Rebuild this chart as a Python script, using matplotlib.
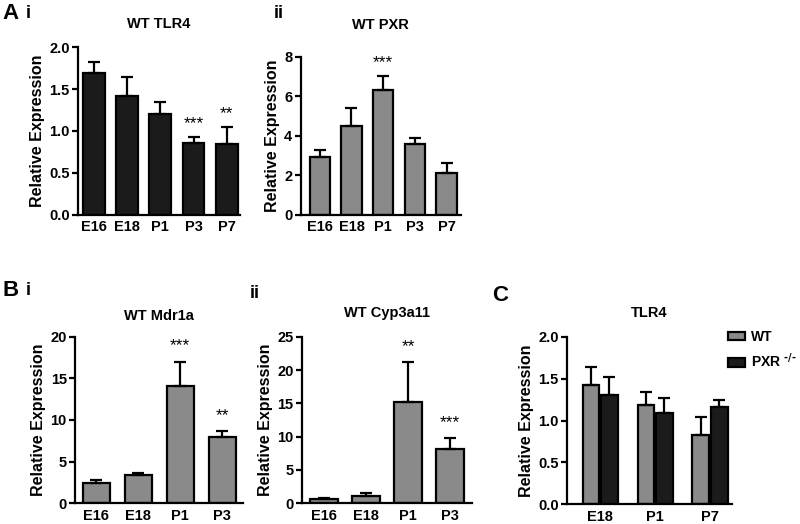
import matplotlib
matplotlib.use("Agg")
import matplotlib.pyplot as plt
import numpy as np
from matplotlib.patches import Patch

plt.rcParams["font.family"] = ["Liberation Sans", "DejaVu Sans"]
plt.rcParams["font.weight"] = "bold"
plt.rcParams["mathtext.default"] = "bf"

GRAY = "#8a8a8a"
DARK = "#1b1b1b"

# --- data ---------------------------------------------------------------
a1_cats = ["E16", "E18", "P1", "P3", "P7"]
a1_mean = [1.69, 1.42, 1.20, 0.855, 0.84]
a1_sem = [0.13, 0.22, 0.14, 0.075, 0.21]
a1_stars = ["", "", "", "***", "**"]

a2_cats = ["E16", "E18", "P1", "P3", "P7"]
a2_mean = [2.94, 4.50, 6.31, 3.59, 2.14]
a2_sem = [0.34, 0.92, 0.73, 0.31, 0.47]
a2_stars = ["", "", "***", "", ""]

b1_cats = ["E16", "E18", "P1", "P3"]
b1_mean = [2.37, 3.37, 14.1, 7.9]
b1_sem = [0.40, 0.28, 2.9, 0.77]
b1_stars = ["", "", "***", "**"]

b2_cats = ["E16", "E18", "P1", "P3"]
b2_mean = [0.55, 1.10, 15.25, 8.2]
b2_sem = [0.25, 0.35, 5.95, 1.55]
b2_stars = ["", "", "**", "***"]

c_cats = ["E18", "P1", "P7"]
c_labels = ["WT", r"PXR $^{\text{-/-}}$"]
c_wt_mean = [1.425, 1.19, 0.83]
c_wt_sem = [0.215, 0.15, 0.21]
c_ko_mean = [1.30, 1.09, 1.16]
c_ko_sem = [0.22, 0.18, 0.09]


def style_axes(ax, ymax, yticks, fmt):
    for s in ("top", "right"):
        ax.spines[s].set_visible(False)
    for s in ("left", "bottom"):
        ax.spines[s].set_linewidth(1.6)
    ax.set_ylim(0, ymax)
    ax.spines["left"].set_bounds(0, ymax)
    ax.set_yticks(yticks)
    ax.set_yticklabels([fmt.format(t) for t in yticks])
    ax.tick_params(axis="y", direction="out", length=4, width=1.6,
                   labelsize=10.5, pad=2)
    ax.tick_params(axis="x", length=0, labelsize=10.5, pad=4)
    ax.set_ylabel("Relative Expression", fontsize=11.5, fontweight="bold",
                  labelpad=3)


def bar_panel(rect, cats, mean, sem, stars, color, ymax, yticks, fmt,
              title, width, xlim, star_off, title_pad):
    ax = fig.add_axes(rect)
    x = np.arange(len(cats))
    ax.bar(x, mean, width, color=color, edgecolor="black", linewidth=1.6,
           zorder=2)
    ax.errorbar(x, mean, yerr=[np.zeros(len(mean)), sem], fmt="none",
                ecolor="black", elinewidth=1.6, capsize=4.5, capthick=1.6,
                zorder=3)
    for xi, m, s, st in zip(x, mean, sem, stars):
        if st:
            ax.annotate(st, (xi, m + s), xytext=(0, star_off),
                        textcoords="offset points", ha="center",
                        va="bottom", fontsize=12.5, fontweight="normal")
    ax.set_xticks(x)
    ax.set_xticklabels(cats, fontweight="bold")
    ax.set_xlim(*xlim)
    style_axes(ax, ymax, yticks, fmt)
    ax.set_title(title, fontsize=10.5, fontweight="bold", pad=title_pad)
    return ax


fig = plt.figure(figsize=(8, 5.24), dpi=100)

bar_panel([0.0975, 0.59, 0.2025, 0.32], a1_cats, a1_mean, a1_sem, a1_stars,
          DARK, 2.0, [0.0, 0.5, 1.0, 1.5, 2.0], "{:.1f}", "WT TLR4",
          0.66, (-0.48, 4.4), 4, 14)
bar_panel([0.376, 0.59, 0.2, 0.302], a2_cats, a2_mean, a2_sem, a2_stars,
          GRAY, 8, [0, 2, 4, 6, 8], "{:d}", "WT PXR",
          0.65, (-0.6, 4.45), 4, 20)
bar_panel([0.094, 0.04, 0.21, 0.317], b1_cats, b1_mean, b1_sem, b1_stars,
          GRAY, 20, [0, 5, 10, 15, 20], "{:d}", "WT Mdr1a",
          0.64, (-0.5, 3.5), 6, 12)
bar_panel([0.3775, 0.04, 0.2125, 0.317], b2_cats, b2_mean, b2_sem, b2_stars,
          GRAY, 25, [0, 5, 10, 15, 20, 25], "{:d}", "WT Cyp3a11",
          0.67, (-0.52, 3.52), 6, 14)

# panel C: grouped bars
axc = fig.add_axes([0.709, 0.038, 0.206, 0.319])
xc = np.arange(len(c_cats))
bw = 0.3
for off, mean, sem, col in [(-0.17, c_wt_mean, c_wt_sem, GRAY),
                            (0.17, c_ko_mean, c_ko_sem, DARK)]:
    axc.bar(xc + off, mean, bw, color=col, edgecolor="black",
            linewidth=1.6, zorder=2)
    axc.errorbar(xc + off, mean, yerr=[np.zeros(len(mean)), sem],
                 fmt="none", ecolor="black", elinewidth=1.6, capsize=4.5,
                 capthick=1.6, zorder=3)
axc.set_xticks(xc)
axc.set_xticklabels(c_cats, fontweight="bold")
axc.set_xlim(-0.6, 2.4)
style_axes(axc, 2.0, [0.0, 0.5, 1.0, 1.5, 2.0], "{:.1f}")
axc.set_title("TLR4", fontsize=10.5, fontweight="bold", pad=14)
handles = [Patch(facecolor=GRAY, edgecolor="black", linewidth=1.6),
           Patch(facecolor=DARK, edgecolor="black", linewidth=1.6)]
fig.legend(handles, c_labels, loc="upper left",
           bbox_to_anchor=(0.91, 0.37), frameon=False,
           borderpad=0, borderaxespad=0,
           handlelength=1.2, handleheight=0.55, handletextpad=0.45,
           labelspacing=0.55, prop={"weight": "bold", "size": 10})

# panel labels
for txt, x, y, size in [("A", 0.003, 0.975, 16), ("i", 0.032, 0.975, 13),
                        ("ii", 0.342, 0.975, 13),
                        ("B", 0.003, 0.445, 16), ("i", 0.032, 0.445, 13),
                        ("ii", 0.312, 0.44, 13),
                        ("C", 0.615, 0.437, 16)]:
    fig.text(x, y, txt, fontsize=size, fontweight="bold", va="center")

fig.savefig("out.png", dpi=100)
